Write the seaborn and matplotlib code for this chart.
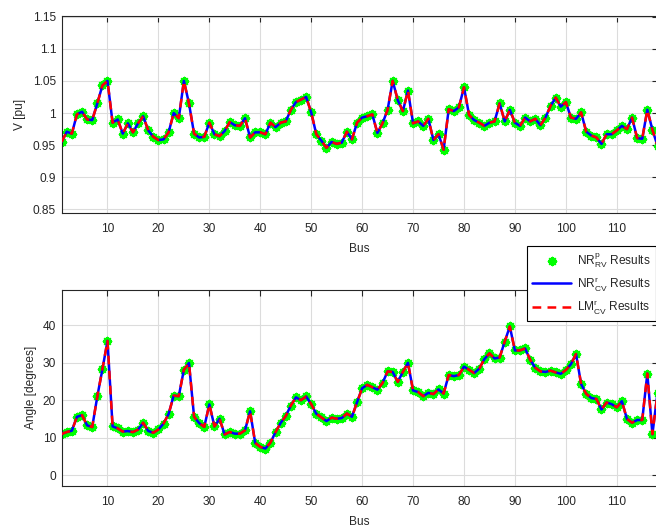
import numpy as np
import pandas as pd
import matplotlib
matplotlib.use("Agg")
import matplotlib.pyplot as plt
import seaborn as sns

# IEEE 118-bus power flow solution: voltage magnitude [pu] and angle [deg]
bus = list(range(1, 119))
vm = [0.955, 0.971, 0.968, 0.998, 1.002, 0.990, 0.989, 1.015, 1.043, 1.050,
      0.985, 0.990, 0.968, 0.984, 0.970, 0.984, 0.995, 0.973, 0.963, 0.958,
      0.959, 0.970, 1.000, 0.992, 1.050, 1.015, 0.968, 0.962, 0.963, 0.985,
      0.967, 0.964, 0.972, 0.986, 0.981, 0.980, 0.992, 0.962, 0.970, 0.970,
      0.967, 0.985, 0.978, 0.985, 0.987, 1.005, 1.017, 1.021, 1.025, 1.001,
      0.967, 0.957, 0.946, 0.955, 0.952, 0.954, 0.971, 0.959, 0.985, 0.993,
      0.995, 0.998, 0.969, 0.984, 1.005, 1.050, 1.020, 1.003, 1.035, 0.984,
      0.987, 0.980, 0.991, 0.958, 0.967, 0.943, 1.006, 1.003, 1.009, 1.040,
      0.997, 0.989, 0.985, 0.980, 0.985, 0.987, 1.015, 0.987, 1.005, 0.985,
      0.980, 0.993, 0.987, 0.991, 0.981, 0.993, 1.011, 1.024, 1.010, 1.017,
      0.993, 0.991, 1.001, 0.971, 0.965, 0.962, 0.952, 0.967, 0.967, 0.973,
      0.980, 0.975, 0.993, 0.961, 0.960, 1.005, 0.974, 0.949]
va = [10.97, 11.51, 11.86, 15.57, 16.02, 13.29, 12.84, 21.04, 28.29, 35.88,
      13.01, 12.49, 11.62, 11.77, 11.48, 12.17, 13.99, 11.78, 11.32, 12.19,
      13.77, 16.33, 21.24, 21.10, 28.17, 29.96, 15.61, 13.89, 12.89, 18.90,
      13.01, 15.06, 10.86, 11.51, 11.07, 11.07, 11.97, 17.06, 8.59, 7.54,
      7.09, 8.69, 11.48, 13.94, 15.78, 18.59, 20.79, 20.02, 21.02, 18.98,
      16.38, 15.42, 14.44, 15.35, 15.06, 15.25, 16.45, 15.59, 19.45, 23.23,
      24.12, 23.50, 22.83, 24.59, 27.72, 27.56, 24.92, 27.60, 30.00, 22.62,
      22.20, 21.10, 21.99, 21.66, 22.91, 21.80, 26.76, 26.45, 26.75, 29.00,
      28.15, 27.27, 28.47, 31.00, 32.55, 31.18, 31.44, 35.68, 39.74, 33.32,
      33.34, 33.86, 30.84, 28.69, 27.73, 27.57, 27.94, 27.45, 27.08, 28.07,
      29.65, 32.35, 24.34, 21.72, 20.60, 20.34, 17.54, 19.40, 18.95, 18.11,
      19.75, 15.00, 13.99, 14.72, 14.72, 27.14, 10.94, 21.95]

labels = [r"NR$^{p}_{\mathrm{RV}}$ Results",
          r"NR$^{r}_{\mathrm{CV}}$ Results",
          r"LM$^{r}_{\mathrm{CV}}$ Results"]

df = pd.DataFrame({"Bus": bus, "V": vm, "Angle": va})

sns.set_theme(style="white")
plt.rcParams["font.family"] = ["Liberation Sans", "DejaVu Sans"]
plt.rcParams["mathtext.fontset"] = "custom"
plt.rcParams["mathtext.rm"] = "Liberation Sans"
plt.rcParams["mathtext.it"] = "Liberation Sans"

fig = plt.figure(figsize=(6.56, 5.28), dpi=100)
ax1 = fig.add_axes([0.094, 0.5972, 0.9083, 0.3725])
ax2 = fig.add_axes([0.094, 0.0801, 0.9083, 0.3707])

axis_col = "#262626"
green = "#00ff00"
asterisk = (8, 2, 0)
fs = 8.6


def draw(ax, col):
    sns.scatterplot(data=df, x="Bus", y=col, ax=ax, marker=asterisk, s=26,
                    color=green, edgecolor=green, linewidth=1.8,
                    label=labels[0], legend=False, zorder=2)
    sns.lineplot(data=df, x="Bus", y=col, ax=ax, color="blue", lw=1.8,
                 label=labels[1], legend=False, zorder=3)
    sns.lineplot(data=df, x="Bus", y=col, ax=ax, color="red", lw=1.8,
                 dashes=(3.5, 2.5), label=labels[2], legend=False, zorder=4)
    ax.set_xlim(1, 118)
    ax.set_xticks(range(10, 111, 10))
    ax.grid(True, color="#dcdcdc", lw=0.8)
    ax.set_axisbelow(True)
    ax.tick_params(direction="in", length=4, width=0.8, colors=axis_col,
                   labelsize=fs, top=True, right=True, pad=4)
    ax.tick_params(axis="x", pad=7.5)
    for s in ax.spines.values():
        s.set_color(axis_col)
        s.set_linewidth(0.8)
    ax.set_xlabel("Bus", fontsize=fs, color=axis_col, labelpad=6)


draw(ax1, "V")
ax1.set_ylim(0.845, 1.151)
ax1.set_yticks([0.85, 0.9, 0.95, 1.0, 1.05, 1.1, 1.15])
ax1.set_yticklabels(["0.85", "0.9", "0.95", "1", "1.05", "1.1", "1.15"])
ax1.set_ylabel("V [pu]", fontsize=fs, color=axis_col, labelpad=5)

draw(ax2, "Angle")
ax2.set_ylim(-2.85, 49.5)
ax2.set_yticks([0, 10, 20, 30, 40])
ax2.set_ylabel("Angle [degrees]", fontsize=fs, color=axis_col, labelpad=4)

handles, labs = ax2.get_legend_handles_labels()
leg = fig.legend(handles, labs, loc="upper right",
                 bbox_to_anchor=(0.9995, 0.534), borderaxespad=0,
                 fontsize=fs, frameon=True, fancybox=False,
                 edgecolor="black", framealpha=1, handlelength=3.3,
                 handletextpad=0.5, labelspacing=0.45, borderpad=0.4)
leg.get_frame().set_linewidth(0.8)
leg.set_zorder(10)

fig.savefig("out.png", dpi=100)
